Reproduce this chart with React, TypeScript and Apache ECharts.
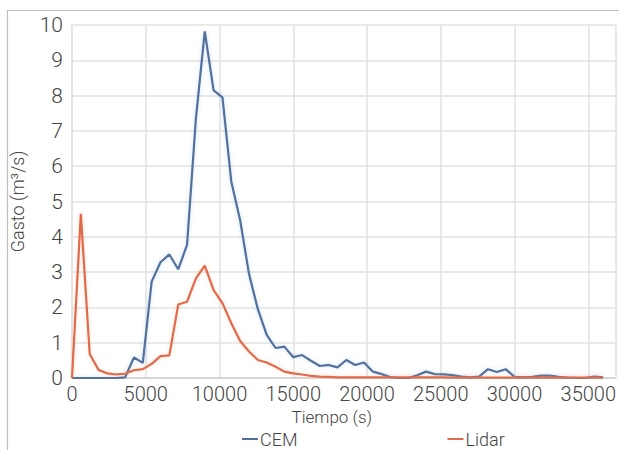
import React, { useEffect, useRef } from "react";
import * as echarts from "echarts";

const timeSec = [
  0, 600, 1200, 1800, 2400, 3000, 3600, 4200, 4800, 5400,
  6000, 6600, 7200, 7800, 8400, 9000, 9600, 10200, 10800, 11400,
  12000, 12600, 13200, 13800, 14400, 15000, 15600, 16200, 16800, 17400,
  18000, 18600, 19200, 19800, 20400, 21000, 21600, 22200, 22800, 23400,
  24000, 24600, 25200, 25800, 26400, 27000, 27600, 28200, 28800, 29400,
  30000, 30600, 31200, 31800, 32400, 33000, 33600, 34200, 34800, 35400,
  36000,
];

const cem = [
  0, 0, 0, 0, 0, 0, 0.02, 0.58, 0.43, 2.73,
  3.28, 3.5, 3.08, 3.77, 7.35, 9.82, 8.15, 7.95, 5.56, 4.47,
  2.95, 1.95, 1.22, 0.85, 0.89, 0.59, 0.65, 0.49, 0.34, 0.37,
  0.3, 0.51, 0.37, 0.44, 0.18, 0.11, 0.02, 0, 0, 0.08,
  0.18, 0.11, 0.1, 0.08, 0.04, 0.02, 0.04, 0.25, 0.17, 0.25,
  0.03, 0.02, 0.03, 0.07, 0.07, 0.03, 0.01, 0, 0, 0.04,
  0.02,
];

const lidar = [
  0, 4.65, 0.68, 0.23, 0.13, 0.1, 0.12, 0.22, 0.25, 0.4,
  0.62, 0.64, 2.08, 2.16, 2.82, 3.18, 2.49, 2.12, 1.55, 1.05,
  0.75, 0.51, 0.44, 0.32, 0.18, 0.13, 0.1, 0.06, 0.04, 0.03,
  0.02, 0.02, 0.02, 0.02, 0.02, 0.02, 0.02, 0.02, 0.02, 0.02,
  0.02, 0.02, 0.02, 0.01, 0.01, 0.01, 0.01, 0.01, 0.01, 0.01,
  0.01, 0.01, 0.01, 0.01, 0.01, 0.01, 0.01, 0.01, 0.01, 0.01,
  0.01,
];

const seriesNames = ["CEM", "Lidar"];
const xTitle = "Tiempo (s)";
const yTitle = "Gasto (m³/s)";

const FONT = "Roboto, sans-serif";

export default function App() {
  const ref = useRef<HTMLDivElement>(null);
  useEffect(() => {
    if (!ref.current) return;
    const chart = echarts.init(ref.current, undefined, { renderer: "svg" });
    chart.setOption({
      animation: false,
      backgroundColor: "#ffffff",
      textStyle: { fontFamily: FONT, fontWeight: 300 },
      grid: { left: 72, right: 0, top: 25, bottom: 72 },
      graphic: [
        {
          type: "polyline",
          shape: { points: [[7.5, 450], [7.5, 10.5], [619, 10.5]] },
          style: { stroke: "#bdbdbd", lineWidth: 1.2, fill: "none" },
          silent: true,
          z: 100,
        },
      ],
      legend: {
        bottom: -3,
        left: 237,
        itemGap: 150,
        itemWidth: 16,
        itemHeight: 2,
        icon: "rect",
        textStyle: { fontFamily: FONT, fontWeight: 300, fontSize: 18, color: "#444", padding: [0, 0, 0, -3] },
        data: seriesNames,
      },
      xAxis: {
        type: "value",
        min: 0,
        max: 36860,
        interval: 5000,
        name: xTitle,
        nameLocation: "middle",
        nameGap: 30,
        nameTextStyle: { fontFamily: FONT, fontWeight: 300, fontSize: 17, color: "#444", padding: [0, 24, 0, 0] },
        axisLine: { show: true, lineStyle: { color: "#cfcfcf", width: 1.5 } },
        axisTick: { show: false },
        axisLabel: {
          fontFamily: FONT,
          fontWeight: 300,
          fontSize: 20,
          color: "#444",
          margin: 6,
          showMaxLabel: false,
          formatter: (v: number) => String(v),
        },
        splitLine: { show: true, lineStyle: { color: "#e2e2e2", width: 1.5 } },
      },
      yAxis: {
        type: "value",
        min: 0,
        max: 10,
        interval: 1,
        name: yTitle,
        nameLocation: "middle",
        nameGap: 46,
        nameTextStyle: { fontFamily: FONT, fontWeight: 300, fontSize: 18, color: "#444" },
        axisLine: { show: true, lineStyle: { color: "#e2e2e2", width: 1.5 } },
        axisTick: { show: false },
        axisLabel: { fontFamily: FONT, fontWeight: 300, fontSize: 21, color: "#444", margin: 9 },
        splitLine: { show: true, lineStyle: { color: "#e2e2e2", width: 1.5 } },
      },
      series: [
        {
          name: seriesNames[0],
          type: "line",
          data: timeSec.map((t, i) => [t, cem[i]]),
          showSymbol: false,
          symbol: "none",
          lineStyle: { color: "#52719a", width: 2.2, shadowColor: "rgba(120,170,230,0.35)", shadowBlur: 4 },
          itemStyle: { color: "#52719a" },
          z: 3,
        },
        {
          name: seriesNames[1],
          type: "line",
          data: timeSec.map((t, i) => [t, lidar[i]]),
          showSymbol: false,
          symbol: "none",
          lineStyle: { color: "#e06a4c", width: 2.2, shadowColor: "rgba(250,170,120,0.35)", shadowBlur: 4 },
          itemStyle: { color: "#e06a4c" },
          z: 4,
        },
      ],
    });
    return () => chart.dispose();
  }, []);
  return (
    <div
      ref={ref}
      style={{ position: "fixed", left: 0, top: 0, width: 619, height: 450, background: "#fff" }}
    />
  );
}
